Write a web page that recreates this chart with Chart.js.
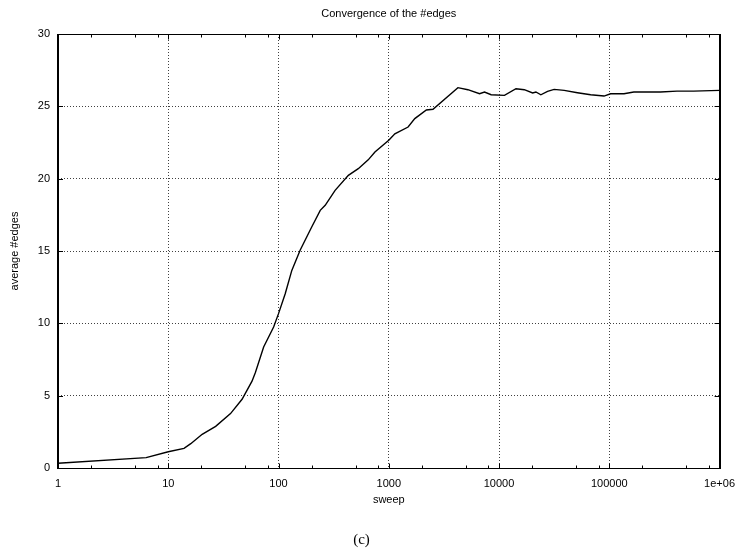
<!DOCTYPE html>
<html>
<head>
<meta charset="utf-8">
<title>Convergence of the #edges</title>
<script src="https://cdn.jsdelivr.net/npm/chart.js@4/dist/chart.umd.min.js"></script>
<style>
    html, body { margin: 0; padding: 0; background: #fff; }
    #wrap { width: 744px; height: 551px; }
</style>
</head>
<body>
<div id="wrap"><canvas id="edges-chart" width="744" height="551"></canvas></div>
<script>
// Values (sweep on a log axis, average #edges)
const sweeps = [1, 6.3, 10, 13.9, 16, 20.3, 26.9, 36.7, 46.7, 57.5, 61.7, 73.3, 90.3, 100, 115, 132, 157, 200, 239, 265,
    326, 430, 529, 651, 749, 1000, 1135, 1497, 1722, 2193, 2518, 4237, 5215, 6653, 7385, 8480, 11200, 14250, 16950,
    20170, 21600, 23950, 27540, 31600, 38990, 51400, 67760, 89550, 102800, 135800, 167000, 290500, 411000, 582000, 1000000];
const avgEdges = [0.33, 0.72, 1.12, 1.36, 1.68, 2.33, 2.88, 3.76, 4.75, 6.0, 6.6, 8.36, 9.74, 10.67, 12.05, 13.66, 15.05, 16.66, 17.81, 18.16,
    19.19, 20.23, 20.69, 21.3, 21.84, 22.65, 23.1, 23.57, 24.15, 24.75, 24.8, 26.29, 26.15, 25.87, 25.99, 25.8, 25.76, 26.22, 26.15,
    25.92, 25.99, 25.8, 26.03, 26.17, 26.1, 25.94, 25.8, 25.71, 25.87, 25.87, 25.99, 25.99, 26.05, 26.05, 26.1];

const xTickValues = [1, 10, 100, 1000, 10000, 100000, 1000000];
const xTickLabels = ['1', '10', '100', '1000', '10000', '100000', '1e+06'];
const xMinorSteps = [2, 5, 8];
const yTickValues = [0, 5, 10, 15, 20, 25, 30];

const FONT = '"Liberation Sans", Arial, Helvetica, sans-serif';

// gnuplot style frame: inward ticks on all four sides + border
const frameTicks = {
    id: 'frameTicks',
    afterDraw(chart) {
        const { ctx, chartArea: a, scales: { x, y } } = chart;
        const top = Math.round(a.top) + 0.5;
        const bottom = Math.round(a.bottom) + 0.5;
        ctx.save();
        ctx.strokeStyle = '#000';
        ctx.lineWidth = 1;
        ctx.beginPath();
        xTickValues.forEach((v, i) => {
            const px = Math.round(x.getPixelForValue(v)) + 0.5;
            ctx.moveTo(px, bottom); ctx.lineTo(px, bottom - 5);
            ctx.moveTo(px, top); ctx.lineTo(px, top + 5);
            if (i < xTickValues.length - 1) {
                xMinorSteps.forEach(m => {
                    const mx = Math.round(x.getPixelForValue(v * m)) + 0.5;
                    ctx.moveTo(mx, bottom); ctx.lineTo(mx, bottom - 3);
                    ctx.moveTo(mx, top); ctx.lineTo(mx, top + 3);
                });
            }
        });
        yTickValues.forEach(v => {
            const py = Math.round(y.getPixelForValue(v)) + 0.5;
            ctx.moveTo(a.left, py); ctx.lineTo(a.left + 5, py);
            ctx.moveTo(a.right, py); ctx.lineTo(a.right - 5, py);
        });
        ctx.stroke();

        // top / bottom thin, left / right a bit heavier
        ctx.beginPath();
        ctx.moveTo(a.left, top); ctx.lineTo(a.right, top);
        ctx.moveTo(a.left, bottom); ctx.lineTo(a.right, bottom);
        ctx.stroke();
        ctx.lineWidth = 2;
        ctx.beginPath();
        ctx.moveTo(Math.round(a.left), top - 0.5); ctx.lineTo(Math.round(a.left), bottom + 0.5);
        ctx.moveTo(Math.round(a.right), top - 0.5); ctx.lineTo(Math.round(a.right), bottom + 0.5);
        ctx.stroke();
        ctx.restore();
    }
};

// dotted grid, but none on the frame edges
const gridStyle = {
    color: c => (c.index === 0 || c.index === c.scale.ticks.length - 1) ? 'rgba(0,0,0,0)' : 'rgba(0,0,0,0.75)',
    lineWidth: 1,
    drawTicks: false
};

new Chart(document.getElementById('edges-chart'), {
    type: 'scatter',
    data: {
        datasets: [{
            data: sweeps.map((s, i) => ({ x: s, y: avgEdges[i] })),
            showLine: true,
            borderColor: '#000',
            borderWidth: 1.4,
            pointRadius: 0,
            tension: 0
        }]
    },
    options: {
        responsive: false,
        animation: false,
        events: [],
        layout: { padding: { left: 0, right: 21, top: 0, bottom: 0 } },
        plugins: {
            legend: { display: false },
            tooltip: { enabled: false },
            title: {
                display: true,
                text: 'Convergence of the #edges',
                fullSize: false,
                color: '#000',
                font: { family: FONT, size: 11, weight: 'normal' },
                padding: { top: 7, bottom: 13.8 }
            },
            subtitle: {
                display: true,
                position: 'bottom',
                text: '(c)',
                color: '#000',
                font: { family: '"Liberation Serif", "Times New Roman", serif', size: 15, weight: 'normal' },
                padding: { top: 18, bottom: 2 }
            }
        },
        scales: {
            x: {
                type: 'logarithmic',
                min: 1,
                max: 1000000,
                afterBuildTicks: scale => { scale.ticks = xTickValues.map(v => ({ value: v })); },
                afterFit: scale => { scale.height = 45; },
                ticks: {
                    autoSkip: false,
                    maxRotation: 0,
                    padding: 9,
                    color: '#000',
                    font: { family: FONT, size: 11 },
                    callback: (value, index) => xTickLabels[index]
                },
                grid: gridStyle,
                border: { display: false, dash: [1, 2] },
                title: {
                    display: true,
                    text: 'sweep',
                    color: '#000',
                    font: { family: FONT, size: 11 },
                    padding: { top: 0, bottom: 6 }
                }
            },
            y: {
                min: 0,
                max: 30,
                afterBuildTicks: scale => { scale.ticks = yTickValues.map(v => ({ value: v })); },
                afterFit: scale => { scale.width = 58; },
                ticks: {
                    padding: 8,
                    color: '#000',
                    font: { family: FONT, size: 11 }
                },
                grid: gridStyle,
                border: { display: false, dash: [1, 2] },
                title: {
                    display: true,
                    text: 'average #edges',
                    color: '#000',
                    font: { family: FONT, size: 11 },
                    padding: { top: 8.4, bottom: 0 }
                }
            }
        }
    },
    plugins: [frameTicks]
});
</script>
</body>
</html>
